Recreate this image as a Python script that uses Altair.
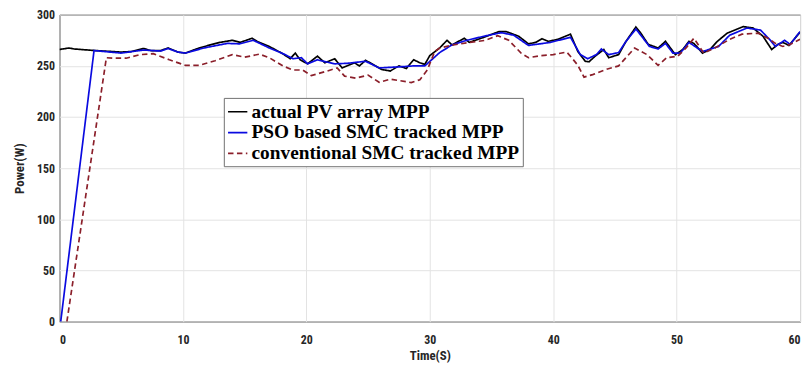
import altair as alt
import pandas as pd

series_names = ["actual PV array MPP", "PSO based SMC tracked MPP", "conventional SMC tracked MPP"]
series_colors = ["#000000", "#0a0ae0", "#8b1f2a"]

actual_t = [0, 0.75, 1.2, 2.9, 5.0, 5.8, 6.8, 7.4, 8.2, 8.8, 9.6, 10.2, 11.2, 12.2, 13.0, 14.0, 14.65,
            15.6, 16.0, 17.0, 18.0, 18.7, 19.1, 19.5, 20.1, 20.9, 21.5, 22.3, 22.9, 23.9, 24.3, 24.8,
            25.6, 26.1, 26.8, 27.5, 28.1, 28.7, 29.2, 29.6, 30.0, 30.8, 31.4, 31.8, 32.8, 33.2, 34.4,
            35.6, 36.2, 37.2, 38.0, 38.6, 39.1, 39.6, 40.4, 41.2, 41.4, 42.0, 42.6, 42.9, 43.4, 44.1,
            44.5, 45.3, 45.9, 46.7, 47.1, 47.7, 48.5, 49.1, 49.9, 50.5, 51.0, 51.4, 52.1, 52.7, 53.3,
            54.1, 55.4, 56.2, 57.0, 57.7, 58.2, 58.6, 59.1, 60.0]
actual_p = [266, 267.5, 266.5, 265, 263.5, 264, 267, 265, 265, 267.5, 263.5, 262.5, 267, 270.5, 273, 275, 273,
            277, 274, 269, 262.5, 257, 262.5, 256, 252, 259.5, 253, 257, 248, 253, 250, 255.5,
            250, 246.5, 245, 250, 247.5, 256, 253, 251.5, 260, 267.5, 275, 270.5, 277, 273, 278,
            283.5, 283.5, 279, 271.5, 273, 276.5, 274, 276, 280, 281, 264, 254.5, 254, 259.5, 266,
            258, 261, 274, 288, 282, 271, 267.5, 274, 261, 266, 274, 272, 262.5, 266, 274,
            282, 288.4, 287, 279, 266, 271, 273, 270, 283]

pso_t = [0.1, 2.8, 5.0, 6.8, 8.2, 8.8, 9.6, 10.2, 11.7, 13.6, 14.6, 15.7, 17.0, 18.3, 18.9, 19.6, 20.1,
         20.9, 21.2, 22.3, 23.3, 24.8, 25.9, 27.5, 28.7, 29.6, 30.8, 31.8, 33.0, 34.4, 35.8, 36.8,
         38.0, 39.8, 41.4, 42.2, 42.8, 43.5, 43.9, 44.5, 45.3, 45.9, 46.7, 47.1, 47.8, 48.5, 49.1,
         49.7, 50.3, 51.0, 52.1, 53.4, 54.3, 55.7, 56.8, 57.6, 58.0, 58.75, 59.2, 60.0]
pso_p = [0, 265, 262.5, 265.5, 264.5, 267, 263.5, 262.5, 267.5, 272, 271.5, 275, 267.5, 261, 257, 258, 252,
         256, 255, 252, 252.5, 254.5, 248, 249, 250, 250, 263, 270.5, 275, 279, 282.5, 280,
         270, 273, 278, 261, 257, 261, 266.5, 261, 263, 274, 286, 280, 269, 266.5, 272,
         262.5, 262.5, 273, 264, 269, 280, 287, 285, 275, 269, 275, 271, 283.5]

conv_t = [0.6, 3.8, 4.35, 5.4, 6.5, 7.6, 8.9, 10.2, 11.3, 12.6, 14.0, 15.0, 16.2, 17.0, 18.1, 18.9,
          19.7, 20.4, 21.7, 22.5, 23.1, 24.0, 25.0, 25.9, 26.8, 27.6, 28.5, 29.2, 29.8, 30.4, 30.8,
          31.9, 33.0, 34.5, 35.5, 36.4, 37.4, 38.0, 39.0, 40.0, 41.1, 41.5, 42.0, 42.5, 43.2, 44.4,
          45.3, 46.6, 47.6, 48.5, 49.2, 50.1, 50.8, 51.4, 52.2, 53.1, 54.3, 55.3, 56.6, 57.4, 58.0,
          58.6, 59.2, 60.0]
conv_p = [0, 258, 257.5, 257.5, 261, 262, 256, 250.5, 250.5, 255, 261, 258.5, 261.5, 258, 250, 246,
          246, 240.5, 245, 248, 240, 238, 241, 234, 237, 235.5, 233.7, 236.5, 246, 264, 267.5,
          270.5, 272.5, 275, 279.5, 275, 262.5, 258, 260, 261, 263.5, 258, 250.5, 239, 241.5, 247,
          250, 267.5, 261, 250.5, 258, 259.5, 268, 277, 262.5, 267.5, 276, 281, 282, 277, 272,
          269, 271, 276]

x_ticks = [0, 10, 20, 30, 40, 50, 60]
y_ticks = [0, 50, 100, 150, 200, 250, 300]

rows = []
for name, ts, ps in [(series_names[0], actual_t, actual_p),
                     (series_names[1], pso_t, pso_p),
                     (series_names[2], conv_t, conv_p)]:
    for i, (t, p) in enumerate(zip(ts, ps)):
        rows.append({"series": name, "t": t, "P": p, "idx": i})
df = pd.DataFrame(rows)

axis_font = "Liberation Sans Narrow, Roboto Condensed, Liberation Sans, Arial"

chart = alt.Chart(df).mark_line(strokeWidth=1.7, clip=True).encode(
    x=alt.X("t:Q", title="Time(S)",
            scale=alt.Scale(domain=[0, 60], nice=False, zero=False),
            axis=alt.Axis(values=x_ticks, format="d", labelPadding=13, titlePadding=4)),
    y=alt.Y("P:Q", title="Power(W)",
            scale=alt.Scale(domain=[0, 300], nice=False),
            axis=alt.Axis(values=y_ticks, format="d", labelPadding=5, titlePadding=10)),
    color=alt.Color("series:N", title=None,
                    scale=alt.Scale(domain=series_names, range=series_colors)),
    strokeDash=alt.StrokeDash("series:N", title=None,
                              scale=alt.Scale(domain=series_names,
                                              range=[[1, 0], [1, 0], [5.5, 3.5]])),
    order=alt.Order("idx:Q"),
    detail="series:N",
).properties(
    width=748, height=310,
    padding={"left": 52, "top": 5, "right": 4, "bottom": 44},
    autosize=alt.AutoSizeParams(type="none"),
).configure_view(
    stroke="#000000", strokeWidth=1
).configure_axis(
    labelFont=axis_font, labelFontWeight="bold", labelFontSize=12, labelColor="#262626",
    titleFont=axis_font, titleFontWeight="bold", titleFontSize=13, titleColor="#262626",
    grid=True, gridColor="#e3e3e3", gridWidth=1, domain=False, ticks=False,
).configure_legend(
    orient="none", legendX=166, legendY=84,
    symbolType="stroke", symbolSize=380, symbolStrokeWidth=1.7,
    labelFont="Liberation Serif", labelFontWeight="bold", labelFontSize=19.5, labelColor="#000000",
    labelOffset=3, rowPadding=-1, labelLimit=0,
    padding=3, strokeColor="#707070", fillColor="#ffffff",
)

chart.save("out.html", embed_options={"renderer": "svg", "actions": False})
